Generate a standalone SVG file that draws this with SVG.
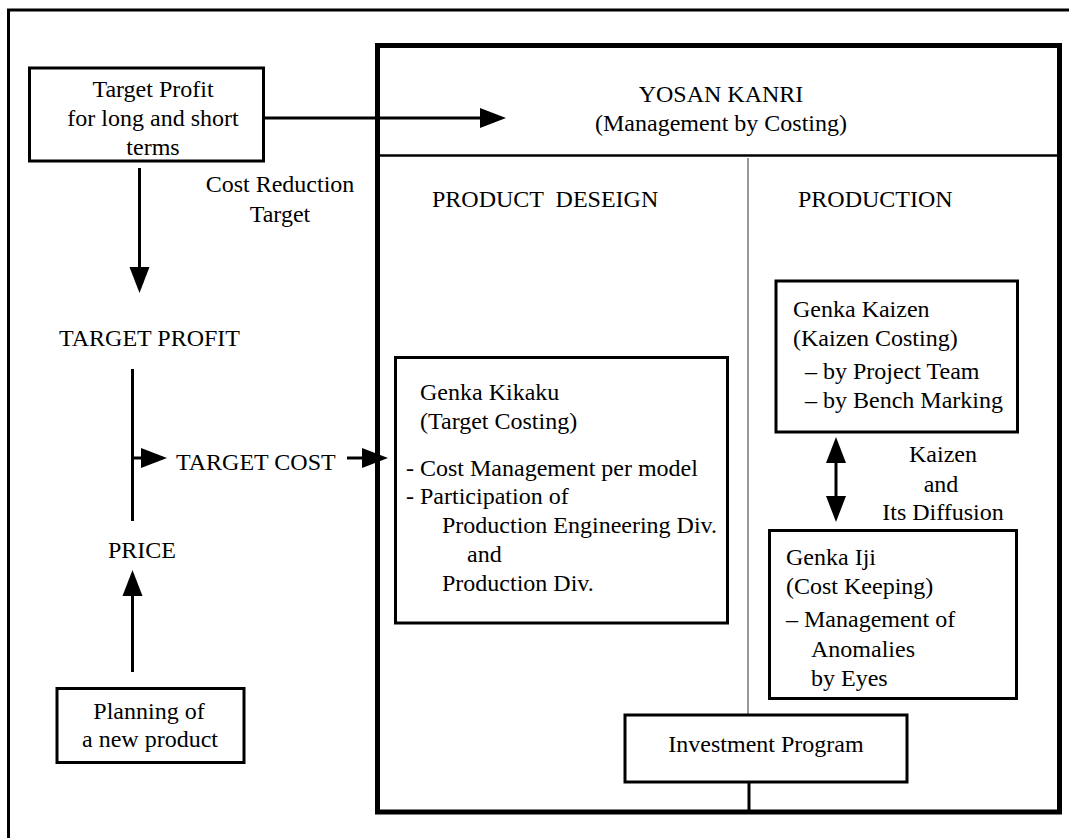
<svg xmlns="http://www.w3.org/2000/svg" width="1069" height="838" viewBox="0 0 1069 838">
  <defs>
    <style>
      text { font-family: "Liberation Serif", "Times New Roman", serif; font-size: 24px; fill: #000; white-space: pre; }
      .mid { text-anchor: middle; }
      .box { fill: #fff; stroke: #000; stroke-width: 3; }
      .line { fill: none; stroke: #000; stroke-width: 3; }
      .thin { fill: none; stroke: #555; stroke-width: 1.2; }
    </style>
    <marker id="head" markerUnits="userSpaceOnUse" markerWidth="27" markerHeight="20" refX="0" refY="10" orient="auto-start-reverse" overflow="visible">
      <path d="M0,0 L26,10 L0,20 z" fill="#000"/>
    </marker>
  </defs>

  <rect width="1069" height="838" fill="#fff"/>

  <!-- outer frame (runs off the right and bottom edges) -->
  <path d="M8.5,840 V10 H1072" fill="none" stroke="#000" stroke-width="3"/>

  <!-- Yosan Kanri frame -->
  <g id="yosan-kanri">
    <rect x="377.5" y="45.5" width="682" height="766.5" fill="none" stroke="#000" stroke-width="5"/>
    <line x1="377.5" y1="155.5" x2="1059.5" y2="155.5" stroke="#000" stroke-width="2.5"/>
    <line class="thin" x1="748" y1="158" x2="748" y2="714"/>
    <text class="mid" x="721" y="102">YOSAN KANRI</text>
    <text class="mid" x="721" y="131">(Management by Costing)</text>
    <text x="432" y="207">PRODUCT  DESEIGN</text>
    <text x="798" y="207">PRODUCTION</text>
  </g>

  <g id="target-profit-box">
    <rect class="box" x="29.5" y="68" width="234" height="93"/>
    <text class="mid" x="153" y="97">Target Profit</text>
    <text class="mid" x="153" y="126">for long and short</text>
    <text class="mid" x="153" y="155">terms</text>
  </g>

  <g id="cost-reduction-label">
    <text class="mid" x="280" y="192">Cost Reduction</text>
    <text class="mid" x="280" y="222">Target</text>
  </g>

  <g id="target-profit">
    <text x="59" y="346">TARGET PROFIT</text>
  </g>

  <g id="target-cost">
    <text x="176" y="470">TARGET COST</text>
  </g>

  <g id="price">
    <text x="108" y="558">PRICE</text>
  </g>

  <g id="planning">
    <rect class="box" x="57" y="688.5" width="187" height="74"/>
    <text class="mid" x="149" y="719">Planning of</text>
    <text class="mid" x="150" y="747">a new product</text>
  </g>

  <g id="genka-kikaku">
    <rect class="box" x="395.5" y="357.5" width="332" height="265.5"/>
    <text x="420" y="400">Genka Kikaku</text>
    <text x="420" y="429">(Target Costing)</text>
    <text x="406" y="476">- Cost Management per model</text>
    <text x="406" y="504">- Participation of</text>
    <text x="442" y="533">Production Engineering Div.</text>
    <text x="467" y="562">and</text>
    <text x="442" y="591">Production Div.</text>
  </g>

  <g id="genka-kaizen">
    <rect class="box" x="776" y="281" width="241.5" height="151"/>
    <text x="793" y="317">Genka Kaizen</text>
    <text x="793" y="346">(Kaizen Costing)</text>
    <text x="805" y="379">– by Project Team</text>
    <text x="805" y="408">– by Bench Marking</text>
  </g>

  <g id="kaizen-diffusion-label">
    <text class="mid" x="943" y="462">Kaizen</text>
    <text class="mid" x="941" y="492">and</text>
    <text class="mid" x="943" y="520">Its Diffusion</text>
  </g>

  <g id="genka-iji">
    <rect class="box" x="769.5" y="530.5" width="247" height="168"/>
    <text x="786" y="565">Genka Iji</text>
    <text x="786" y="594">(Cost Keeping)</text>
    <text x="786" y="627">– Management of</text>
    <text x="811" y="657">Anomalies</text>
    <text x="811" y="686">by Eyes</text>
  </g>

  <g id="investment-program">
    <rect class="box" x="625" y="715" width="282" height="67"/>
    <text class="mid" x="766" y="752">Investment Program</text>
  </g>

  <!-- connectors -->
  <g id="connectors">
    <line class="line" x1="264" y1="118" x2="480" y2="118" marker-end="url(#head)"/>
    <line class="line" x1="139.5" y1="168" x2="139.5" y2="267" marker-end="url(#head)"/>
    <line class="line" x1="132.5" y1="369" x2="132.5" y2="521"/>
    <line class="line" x1="131" y1="458" x2="141" y2="458" marker-end="url(#head)"/>
    <line class="line" x1="347" y1="458" x2="362" y2="458" marker-end="url(#head)"/>
    <line class="line" x1="132.5" y1="672" x2="132.5" y2="596" marker-end="url(#head)"/>
    <line class="line" x1="836" y1="463" x2="836" y2="496" stroke-width="4" marker-start="url(#head)" marker-end="url(#head)"/>
    <line class="line" x1="749" y1="782" x2="749" y2="810"/>
  </g>
</svg>
